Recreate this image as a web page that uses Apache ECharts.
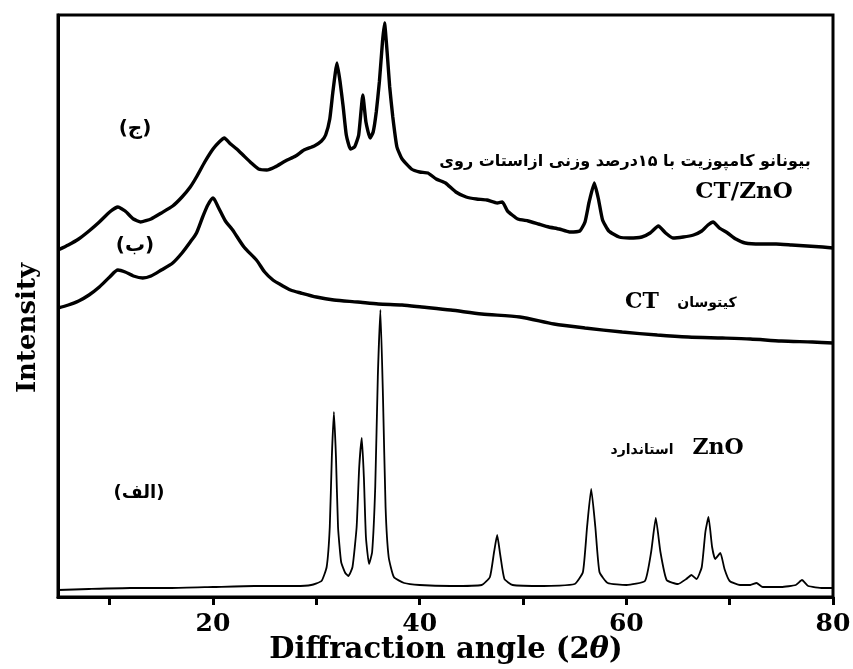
<!DOCTYPE html>
<html><head><meta charset="utf-8">
<script src="https://cdn.jsdelivr.net/npm/echarts@6/dist/echarts.min.js"></script>
<style>html,body{margin:0;padding:0;background:#fff}#c{width:853px;height:669px}</style>
</head><body><div id="c"></div>
<script>
// 2θ ticks and labels
const xTicks = [10, 20, 30, 40, 50, 60, 70, 80];
const xTickLabels = [20, 40, 60, 80];

// (الف) standard ZnO  [2θ, intensity (a.u.)]
const znoStandard = [[5,7],[8,8],[12,9],[16,9],[20,10],[24,11],[28,11],[29.5,12],[30.5,16],[31.0,30],[31.3,70],[31.5,140],[31.7,185],[31.9,140],[32.1,70],[32.4,35],[32.8,24],[33.1,21],[33.5,30],[33.9,70],[34.15,130],[34.4,159],[34.6,120],[34.8,60],[35.1,33],[35.4,45],[35.7,110],[35.95,220],[36.2,287],[36.45,200],[36.7,90],[37.0,40],[37.5,20],[38.5,14],[40,12],[43,11],[46,12],[46.8,20],[47.2,45],[47.5,62],[47.8,42],[48.2,18],[49,12],[52,11],[55,13],[55.8,25],[56.2,70],[56.6,108],[57.0,70],[57.4,25],[58.2,14],[60,12],[61.8,16],[62.4,45],[62.85,79],[63.3,45],[63.9,17],[65,13],[65.8,18],[66.3,22],[66.8,18],[67.3,30],[67.65,65],[67.95,80],[68.3,50],[68.6,38],[69.1,44],[69.5,28],[70,16],[71,12],[72,12],[72.6,14],[73.2,10],[75,10],[76.4,12],[77.0,17],[77.6,11],[79,9],[80,9]];

// (ب) chitosan CT
const chitosan = [[5,289],[6,292],[7,296],[8,302],[9,310],[10,320],[10.8,327],[11.5,325],[12.3,321],[13.2,319],[14,321],[15,327],[16.1,334],[17,344],[17.8,355],[18.4,364],[19,380],[19.5,392],[20,399],[20.5,390],[21.2,376],[21.9,367],[23,350],[24.2,337],[25,325],[25.8,317],[26.6,312],[27.5,307],[28.5,304],[30,300],[31.7,297],[34,295],[36,293],[38.3,292],[40.2,290],[43,287],[46,283],[49.7,280],[53,273],[56,269],[59.6,265],[63,262],[66,260],[69.3,259],[72,258],[75,256],[78,255],[80,254]];

// (ج) CT/ZnO bionanocomposite
const ctZno = [[5,347],[6,352],[7,358],[8,366],[9,375],[10,385],[10.8,390],[11.5,386],[12.3,378],[13,375],[14,378],[15,384],[16.1,391],[17,400],[17.8,410],[18.4,420],[19.2,435],[20,448],[20.6,455],[21.1,459],[21.7,453],[22.3,448],[22.9,442],[23.7,434],[24.4,428],[25.2,427],[26,430],[27,436],[28,441],[28.8,447],[29.8,451],[30.5,456],[30.9,462],[31.3,478],[31.6,505],[32.0,534],[32.3,515],[32.6,490],[32.9,462],[33.3,448],[33.7,450],[34.1,462],[34.5,502],[34.8,475],[35.2,459],[35.5,465],[35.8,485],[36.1,515],[36.4,555],[36.6,574],[36.85,545],[37.1,510],[37.4,480],[37.8,450],[38.3,438],[39.2,428],[40,425],[40.8,424],[41.6,418],[42.5,414],[43.5,405],[44.5,400],[45.5,398],[46.5,397],[47.5,394],[48,395],[48.5,386],[49.5,378],[50.5,376],[51.5,373],[52.5,370],[53.5,368],[54.5,365],[55.5,366],[56.0,375],[56.4,395],[56.9,414],[57.3,398],[57.7,377],[58.3,366],[59.3,360],[60.3,359],[61.5,360],[62.3,364],[63.1,371],[63.8,364],[64.5,359],[65.5,360],[66.5,362],[67.3,366],[67.9,372],[68.4,375],[69.0,369],[69.8,364],[70.6,358],[71.5,354],[73,353],[74.5,353],[76,352],[77.5,351],[79,350],[80,349]];

const SERIF = '"DejaVu Serif", "Liberation Serif", serif';
const ARAB = '"DejaVu Sans", sans-serif';

function txt(x, y, text, size, font, rot) {
  return { type: 'text', x: x, y: y, z: 10, rotation: rot || 0,
    style: { text: text, fill: '#000', font: 'bold ' + size + 'px ' + font, textAlign: 'center', textVerticalAlign: 'middle' } };
}

const chart = echarts.init(document.getElementById('c'), null, { renderer: 'canvas' });
chart.setOption({
  animation: false,
  backgroundColor: '#fff',
  grid: { left: 58, right: 20, top: 15, bottom: 72, show: true, borderColor: '#000', borderWidth: 3,
          containLabel: false, outerBoundsMode: 'none' },
  xAxis: {
    type: 'value', min: 5, max: 80,
    axisLine: { show: true, lineStyle: { color: '#000', width: 3 } },
    axisTick: { show: true, customValues: xTicks, length: 8, lineStyle: { color: '#000', width: 3 } },
    axisLabel: { customValues: xTickLabels, color: '#000', fontFamily: SERIF, fontWeight: 'bold', fontSize: 25, margin: 15 },
    splitLine: { show: false }
  },
  yAxis: {
    type: 'value', min: 0, max: 582,
    axisLine: { show: true, lineStyle: { color: '#000', width: 3 } },
    axisTick: { show: false }, axisLabel: { show: false }, splitLine: { show: false }
  },
  series: [
    { type: 'line', data: znoStandard, showSymbol: false, smooth: 0.15, lineStyle: { color: '#000', width: 1.8 } },
    { type: 'line', data: chitosan, showSymbol: false, smooth: 0.25, lineStyle: { color: '#000', width: 3.4 } },
    { type: 'line', data: ctZno, showSymbol: false, smooth: 0.15, lineStyle: { color: '#000', width: 3.4 } }
  ],
  graphic: [
    { type: 'text', x: 446, y: 650, z: 10,
      style: { text: '{a|Diffraction angle (2}{b|θ}{a|)}', align: 'center', verticalAlign: 'middle',
        rich: {
          a: { fontFamily: SERIF, fontWeight: 'bold', fontSize: 29, fill: '#000' },
          b: { fontFamily: SERIF, fontWeight: 'bold', fontStyle: 'italic', fontSize: 29, fill: '#000' } } } },
    txt(28, 328, 'Intensity', 26, SERIF, Math.PI / 2),
    txt(135, 129, '(ج)', 20, ARAB),
    txt(135, 246, '(ب)', 20, ARAB),
    txt(139, 493, '(الف)', 18, ARAB),
    txt(625, 162, 'بیونانو کامپوزیت با ۱۵درصد وزنی ازاستات روی', 16, ARAB),
    txt(744, 192, 'CT/ZnO', 23, SERIF),
    txt(642, 302, 'CT', 22, SERIF),
    txt(707, 303, 'کیتوسان', 14, ARAB),
    txt(718, 448, 'ZnO', 22, SERIF),
    txt(642, 450, 'استاندارد', 14, ARAB)
  ]
});
</script></body></html>
